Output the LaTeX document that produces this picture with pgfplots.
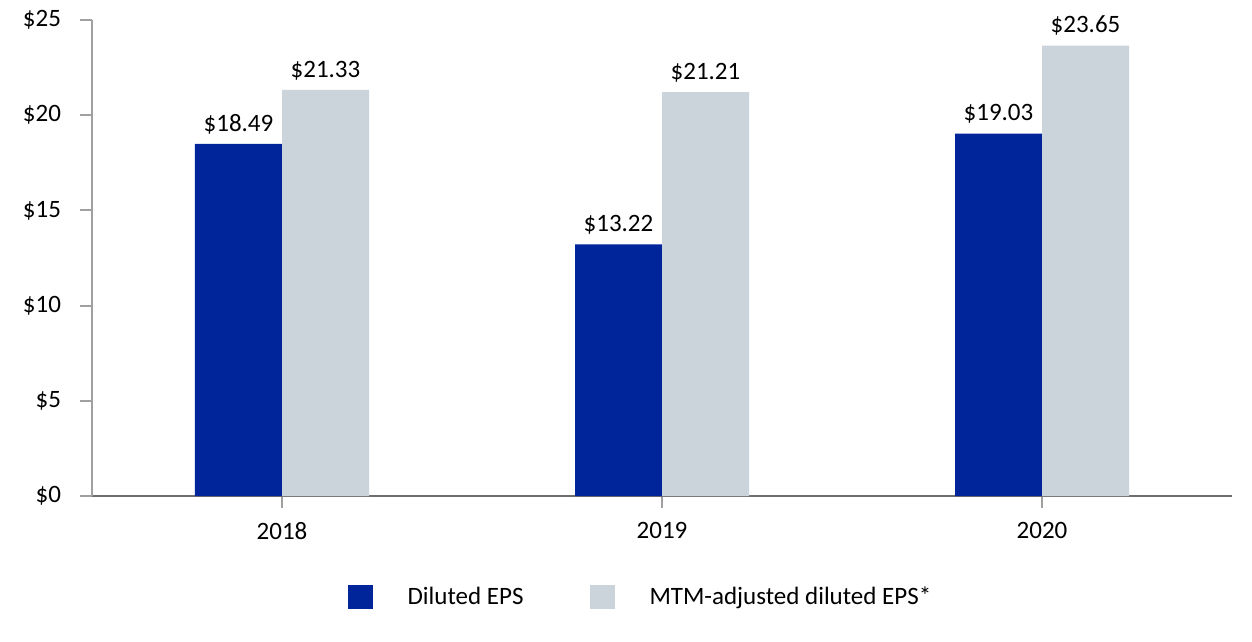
\documentclass[border=0pt]{standalone}
\usepackage{pgfplots}
\pgfplotsset{compat=1.18}
\usepackage{fontspec}
\setmainfont{Carlito}
\definecolor{epsblue}{RGB}{0,36,153}
\definecolor{epsgray}{RGB}{203,211,219}
\definecolor{axgray}{RGB}{160,160,160}
\definecolor{axdark}{RGB}{110,110,110}
\begin{document}
\begin{tikzpicture}
\path[use as bounding box] (-46pt,-73pt) rectangle (580pt,248pt);
\begin{axis}[
  at={(0,0)}, anchor=south west,
  scale only axis, width=570pt, height=238pt,
  ybar=0pt, bar width=43.5pt,
  xmin=-0.5, xmax=2.5, ymin=0, ymax=25,
  xtick={0,1,2}, xticklabels={2018,2019,2020},
  ytick={0,5,10,15,20,25},
  yticklabel={\$\pgfmathprintnumber{\tick}},
  /pgf/number format/assume math mode=true,
  axis x line*=bottom, axis y line*=left,
  x axis line style={draw=axdark, line width=1.3pt, -},
  y axis line style={draw=axgray, line width=1pt, -},
  tick align=outside, major tick length=6pt,
  xtick style={draw=axgray, line width=1pt},
  ytick style={draw=axgray, line width=1pt},
  tick label style={font=\fontsize{12.5}{15}\selectfont, text=black},
  yticklabel style={xshift=-6pt},
  xticklabel style={yshift=-3.5pt},
  nodes near coords={\$\pgfmathprintnumber[fixed,fixed zerofill,precision=2]{\pgfplotspointmeta}},
  nodes near coords style={font=\fontsize{12.5}{15}\selectfont, text=black, /pgf/number format/assume math mode=true, yshift=1.5pt},
  legend columns=2,
  legend style={draw=none, at={(0.482,-0.212)}, anchor=center, font=\fontsize{12.5}{15}\selectfont,
    /tikz/every even column/.append style={column sep=31pt}},
  legend image code/.code={\fill[#1,draw=none] (0pt,-6pt) rectangle (12.5pt,6pt); \path[draw=none,fill=none] (0pt,0pt) -- (28pt,0pt);},
]
\addplot[fill=epsblue, draw=none] coordinates {(0,18.49) (1,13.22) (2,19.03)};
\addplot[fill=epsgray, draw=none] coordinates {(0,21.33) (1,21.21) (2,23.65)};
\legend{Diluted EPS, MTM-adjusted diluted EPS*}
\end{axis}
\end{tikzpicture}
\end{document}
